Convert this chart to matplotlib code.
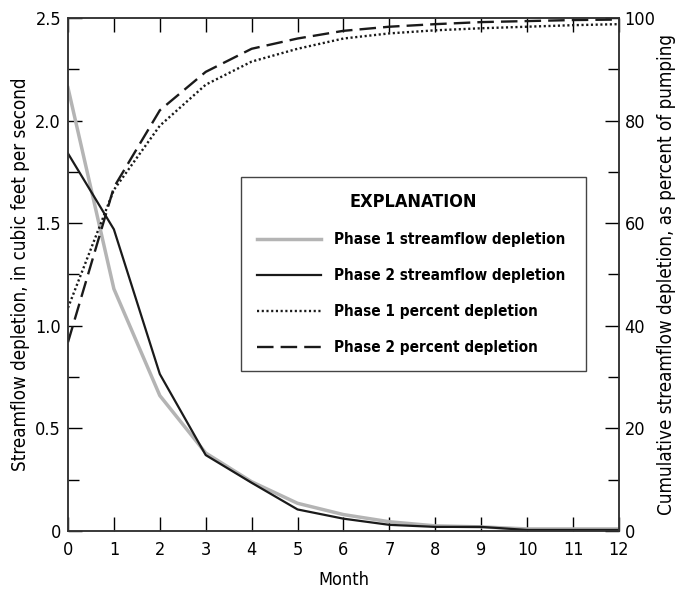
import matplotlib.pyplot as plt
from matplotlib import font_manager
from matplotlib.ticker import MultipleLocator

# pick a narrow sans font if one is installed
narrow = None
stretch = 'normal'
for f in font_manager.fontManager.ttflist:
    name = f.name
    if 'Narrow' in name or 'Condensed' in name:
        narrow = name
        break
    if f.stretch in ('condensed', 'semi-condensed', 'extra-condensed') and 'Mono' not in name:
        narrow = name
        stretch = f.stretch
        break
if narrow:
    plt.rcParams['font.family'] = [narrow, 'DejaVu Sans']
    plt.rcParams['font.stretch'] = stretch
    fs = 13
else:
    plt.rcParams['font.family'] = ['DejaVu Sans']
    fs = 11

# Months
months = [0, 1, 2, 3, 4, 5, 6, 7, 8, 9, 10, 11, 12]

# Streamflow depletion, cubic feet per second
phase1_flow = [2.16, 1.18, 0.66, 0.38, 0.24, 0.135, 0.08, 0.045, 0.025, 0.02, 0.01, 0.01, 0.01]
phase2_flow = [1.84, 1.47, 0.765, 0.37, 0.235, 0.105, 0.06, 0.03, 0.02, 0.02, 0.005, 0.005, 0.005]

# Cumulative depletion, percent of pumping
phase1_pct = [43.5, 66.5, 79.0, 87.0, 91.5, 94.0, 96.0, 97.0, 97.6, 98.0, 98.3, 98.6, 98.8]
phase2_pct = [36.8, 67.0, 82.0, 89.5, 94.0, 96.0, 97.5, 98.3, 98.8, 99.2, 99.4, 99.6, 99.7]

left_ticks = [0, 0.5, 1.0, 1.5, 2.0, 2.5]
left_labels = ['0', '0.5', '1.0', '1.5', '2.0', '2.5']

fig = plt.figure(figsize=(6.77, 5.9), dpi=100)
ax = fig.add_axes([0.1004, 0.1, 0.8139, 0.8695])
ax2 = ax.twinx()

l1, = ax.plot(months, phase1_flow, color='#b4b4b4', lw=2.5, label='Phase 1 streamflow depletion')
l2, = ax.plot(months, phase2_flow, color='#1a1a1a', lw=1.6, label='Phase 2 streamflow depletion')
l3, = ax2.plot(months, phase1_pct, color='#1a1a1a', lw=1.7, linestyle=(0, (0.9, 1.1)),
               label='Phase 1 percent depletion')
l4, = ax2.plot(months, phase2_pct, color='#1a1a1a', lw=1.7, linestyle=(0, (7, 3)),
               label='Phase 2 percent depletion')

ax.set_xlim(0, 12)
ax.set_ylim(0, 2.5)
ax2.set_ylim(0, 100)

ax.set_xticks(months)
ax.set_yticks(left_ticks)
ax.set_yticklabels(left_labels)
ax.yaxis.set_minor_locator(MultipleLocator(0.25))
ax2.set_yticks([0, 20, 40, 60, 80, 100])
ax2.yaxis.set_minor_locator(MultipleLocator(10))

ax.tick_params(axis='y', which='major', direction='in', length=10, width=1,
               labelsize=fs, right=False, pad=5)
ax.tick_params(axis='x', which='major', direction='in', length=10, width=1,
               labelsize=fs, top=True, pad=7)
ax.tick_params(axis='y', which='minor', direction='in', length=8, width=1)
ax2.tick_params(axis='y', which='major', direction='in', length=10, width=1, labelsize=fs, pad=4)
ax2.tick_params(axis='y', which='minor', direction='in', length=8, width=1)

for a in (ax, ax2):
    for s in a.spines.values():
        s.set_linewidth(1.1)
        s.set_color('#333333')

ax.set_xlabel('Month', fontsize=fs, labelpad=9)
ax.set_ylabel('Streamflow depletion, in cubic feet per second', fontsize=fs + 0.5, labelpad=4)
ax2.set_ylabel('Cumulative streamflow depletion, as percent of pumping', fontsize=fs + 0.5, labelpad=1)

leg = ax2.legend(handles=[l1, l2, l3, l4], title='EXPLANATION',
                 loc='upper left', bbox_to_anchor=(0.314, 0.69, 0.626, 0.0), mode='expand',
                 borderaxespad=0,
                 frameon=True, fancybox=False, edgecolor='#444444', framealpha=1,
                 handlelength=4.2, handletextpad=0.85, labelspacing=1.38,
                 borderpad=1.05, prop={'size': 11, 'weight': 'bold'},
                 title_fontproperties={'size': 13, 'weight': 'bold'})
leg.get_frame().set_linewidth(1.0)

fig.savefig('out.png', dpi=100)
